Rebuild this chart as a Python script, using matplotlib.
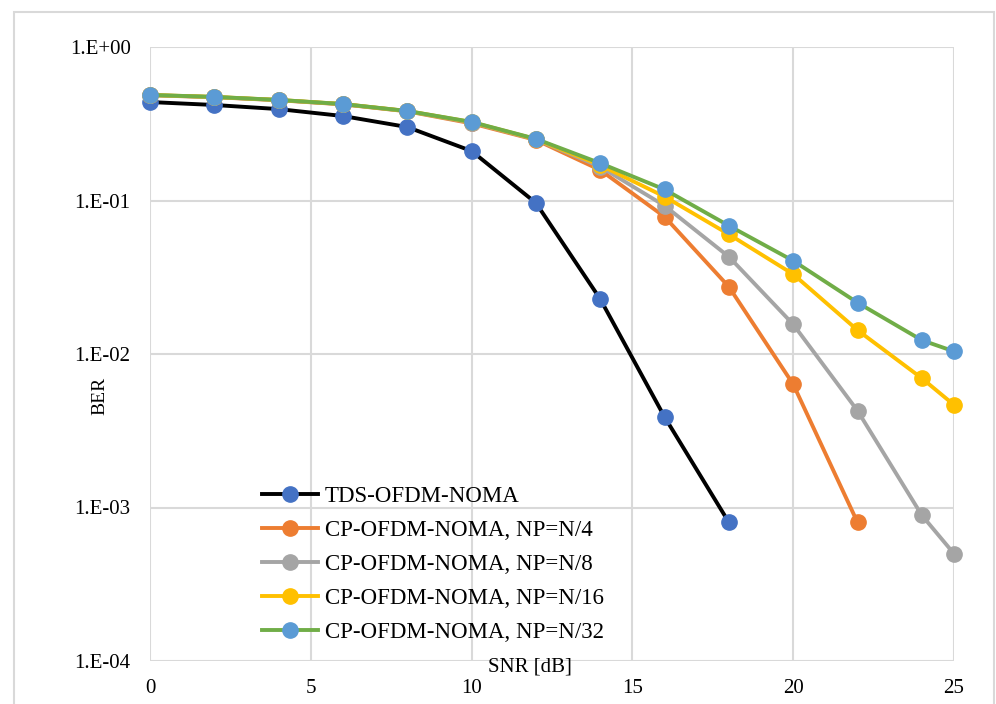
import matplotlib
matplotlib.use("Agg")
import matplotlib.pyplot as plt
from matplotlib.patches import Rectangle
import numpy as np

plt.rcParams['font.family'] = ['Liberation Serif', 'DejaVu Serif']

snr_tds = [0, 2, 4, 6, 8, 10, 12, 14, 16, 18]
ber_tds = [0.438, 0.419, 0.394, 0.355, 0.301, 0.210, 0.0964, 0.0228, 0.00389, 0.00080]

snr_n4 = [0, 2, 4, 6, 8, 10, 12, 14, 16, 18, 20, 22]
ber_n4 = [0.485, 0.471, 0.450, 0.423, 0.381, 0.318, 0.248, 0.158, 0.0784, 0.0274, 0.00635, 0.00080]

snr_cp = [0, 2, 4, 6, 8, 10, 12, 14, 16, 18, 20, 22, 24, 25]
ber_n8 = [0.486, 0.472, 0.451, 0.424, 0.382, 0.322, 0.250, 0.166, 0.0925, 0.0430, 0.0156, 0.00427, 0.00089, 0.00050]
ber_n16 = [0.487, 0.473, 0.452, 0.425, 0.383, 0.324, 0.251, 0.170, 0.106, 0.0602, 0.0331, 0.0143, 0.00695, 0.00466]
ber_n32 = [0.487, 0.473, 0.452, 0.425, 0.383, 0.325, 0.252, 0.175, 0.118, 0.0685, 0.0405, 0.0216, 0.0123, 0.0104]

labels = ["TDS-OFDM-NOMA", "CP-OFDM-NOMA, NP=N/4", "CP-OFDM-NOMA, NP=N/8",
          "CP-OFDM-NOMA, NP=N/16", "CP-OFDM-NOMA, NP=N/32"]
y_ticks = [1e-4, 1e-3, 1e-2, 1e-1, 1e0]
y_tick_labels = ["1.E-04", "1.E-03", "1.E-02", "1.E-01", "1.E+00"]
x_ticks = [0, 5, 10, 15, 20, 25]

W, H = 996, 704
fig = plt.figure(figsize=(W / 100, H / 100), dpi=100)
ax = fig.add_axes([150 / W, (H - 661) / H, 804 / W, 614 / H])

# chart area border
fig.patches.append(Rectangle((14 / W, -0.1), 980 / W, (H - 12) / H + 0.1, transform=fig.transFigure,
                             fill=False, edgecolor='#d9d9d9', linewidth=1.5, zorder=0))

series = [
    (snr_tds, ber_tds, '#000000', '#4472C4'),
    (snr_n4, ber_n4, '#ED7D31', '#ED7D31'),
    (snr_cp, ber_n8, '#A5A5A5', '#A5A5A5'),
    (snr_cp, ber_n16, '#FFC000', '#FFC000'),
    (snr_cp, ber_n32, '#70AD47', '#5B9BD5'),
]
for (x, y, lc, mc), lab in zip(series, labels):
    ax.plot(x, y, color=lc, linewidth=2.8, marker='o', markersize=11,
            markerfacecolor=mc, markeredgecolor=mc, label=lab, clip_on=False)

ax.set_yscale('log')
ax.set_xlim(0, 25)
ax.set_ylim(1e-4, 1)
ax.set_yticks(y_ticks)
ax.set_yticklabels(y_tick_labels)
ax.yaxis.set_minor_locator(matplotlib.ticker.NullLocator())
ax.set_xticks(x_ticks)
ax.set_xticklabels([str(t) for t in x_ticks])
ax.tick_params(axis='both', length=0, labelsize=15, colors='#000000')
ax.tick_params(axis='y', pad=14)
ax.tick_params(axis='x', pad=13)
for s in ax.spines.values():
    s.set_visible(False)
ax.grid(True, which='major', color='#d9d9d9', linewidth=1.5)
ax.set_axisbelow(True)

fig.text(530 / W, 1 - 667 / H, "SNR [dB]", ha='center', va='center', fontsize=15)
fig.text(100 / W, 1 - 396 / H, "BER", ha='center', va='center', rotation=90, fontsize=14)

leg = ax.legend(loc='upper left', bbox_to_anchor=(262 / W, 1 - 486 / H),
                bbox_transform=fig.transFigure, frameon=False, fontsize=16.5,
                handlelength=2.45, handletextpad=0.3, labelspacing=0.57,
                borderaxespad=0, borderpad=0)

fig.savefig("out.png", dpi=100)
